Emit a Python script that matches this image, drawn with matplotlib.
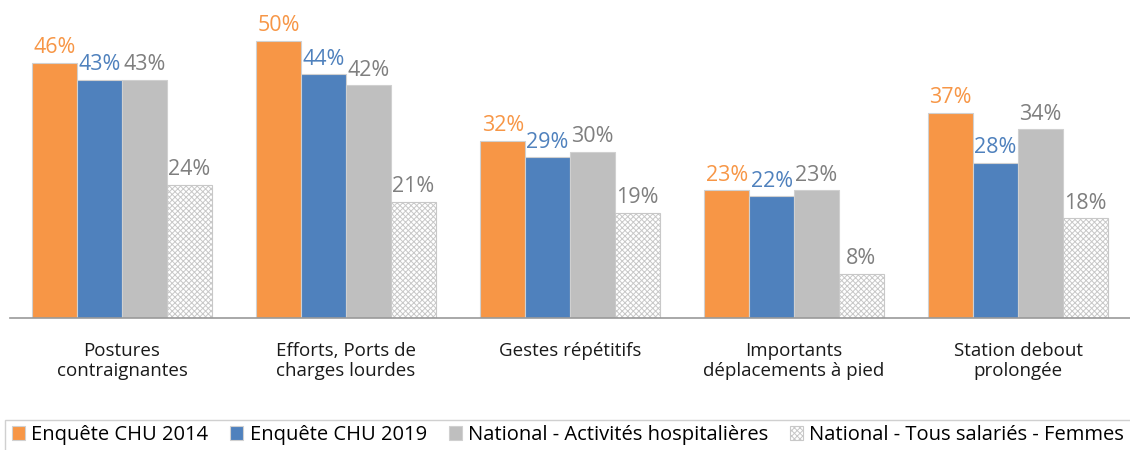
import matplotlib.pyplot as plt
import numpy as np
from matplotlib.patches import Rectangle

plt.rcParams['font.family'] = ['Open Sans', 'DejaVu Sans']
plt.rcParams['hatch.color'] = '#bdbdbd'
plt.rcParams['hatch.linewidth'] = 0.7

categories = ["Postures\ncontraignantes", "Efforts, Ports de\ncharges lourdes",
              "Gestes répétitifs", "Importants\ndéplacements à pied",
              "Station debout\nprolongée"]
chu_2014 = [46, 50, 32, 23, 37]
chu_2019 = [43, 44, 29, 22, 28]
nat_hosp = [43, 42, 30, 23, 34]
nat_femmes = [24, 21, 19, 8, 18]

series_names = ["Enquête CHU 2014", "Enquête CHU 2019",
                "National - Activités hospitalières",
                "National - Tous salariés - Femmes"]
colors = ['#f79646', '#4f81bd', '#bfbfbf', 'white']
label_colors = ['#f79646', '#4f81bd', '#7f7f7f', '#7f7f7f']

fig = plt.figure(figsize=(11.3, 4.5), dpi=100)
ax = fig.add_axes([10/1130, 132/450, 1120/1130, 305/450])

x = np.arange(len(categories))
w = 0.2
all_series = [chu_2014, chu_2019, nat_hosp, nat_femmes]
handles = []
for i, vals in enumerate(all_series):
    pos = x + (i - 1.5) * w
    if i == 3:
        bars = ax.bar(pos, vals, w, color='white', edgecolor='#c8c8c8',
                      hatch='xxxxxx', linewidth=0.8, label=series_names[i])
    else:
        bars = ax.bar(pos, vals, w, color=colors[i], edgecolor='#d0d0d0',
                      linewidth=0.8, label=series_names[i])
    handles.append(bars)
    for p, v in zip(pos, vals):
        ax.text(p, v + 0.8, "%d%%" % v, ha='center', va='bottom',
                fontsize=15.5, color=label_colors[i])

ax.set_xlim(-0.5, len(categories) - 0.5)
ax.set_ylim(0, 55)
ax.set_yticks([])
ax.set_xticks(x)
ax.set_xticklabels(categories, fontsize=13.5, color='#1a1a1a', linespacing=1.2)
ax.tick_params(axis='x', length=0, pad=17)
for s in ['top', 'right', 'left']:
    ax.spines[s].set_visible(False)
ax.spines['bottom'].set_color('#999999')
ax.spines['bottom'].set_linewidth(1.2)

# legend box spanning the width
fig.patches.append(Rectangle((5/1130, -0.01), 1.0, 35/450, transform=fig.transFigure,
                             facecolor='white', edgecolor='#d0d0d0', linewidth=1.0))
leg = fig.legend(handles=handles, loc='center left', bbox_to_anchor=(12/1130, 15/450),
                 ncol=4, frameon=False, fontsize=14.5,
                 handlelength=0.65, handleheight=0.65, handletextpad=0.3, columnspacing=1.1,
                 borderaxespad=0.0, borderpad=0.0)

fig.savefig('out.png', dpi=100)
